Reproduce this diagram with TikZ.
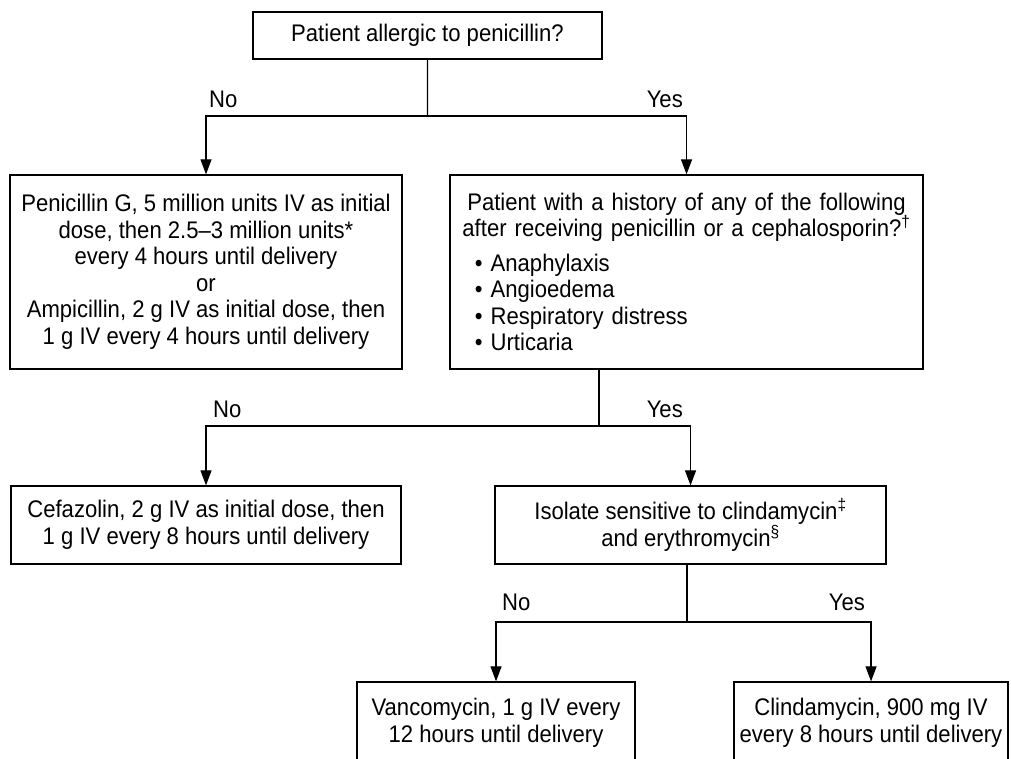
\documentclass[tikz,border=0pt]{standalone}
\usepackage{fontspec}
\usepackage{tikz}
\usetikzlibrary{arrows.meta}
\newfontfamily\chartfont{Liberation Sans}[FakeStretch=0.92]
\setlength\parindent{0pt}

\begin{document}
\begin{tikzpicture}[scale=0.3514]
\tikzstyle{every node}+=[inner sep=0pt, font=\chartfont\fontsize{24}{26.5}\selectfont]
\tikzstyle{box}=[draw=black, line width=1.3pt, align=center]
\tikzstyle{link}=[black, line width=1.1pt]
\tikzstyle{arr}=[link, -{Triangle[length=15pt,width=11pt]}]
\useasboundingbox (0,0) rectangle (101.1,-75.9);
% question boxes and treatments
\node [box, minimum width=349pt, minimum height=47pt] (allergic) at (42.75,-3.55) {Patient allergic to penicillin?};
\node [box, minimum width=392pt, minimum height=194pt] (pen) at (20.6,-27.2) {Penicillin G, 5 million units IV as initial\\ dose, then 2.5–3 million units*\\ every 4 hours until delivery\\ or\\ Ampicillin, 2 g IV as initial dose, then\\ 1 g IV every 4 hours until delivery};
\node [box, align=left, text width=423pt, minimum height=194pt, inner xsep=25pt] (history) at (68.65,-27.2) {\makebox[\linewidth]{Patient with a history of any of the following}\\ \makebox[\linewidth]{after receiving penicillin or a cephalosporin?\textsuperscript{†}}\\[8pt] • Anaphylaxis\\ • Angioedema\\ • Respiratory distress\\ • Urticaria};
\node [box, minimum width=390pt, minimum height=78pt] (cef) at (20.6,-52.5) {Cefazolin, 2 g IV as initial dose, then\\ 1 g IV every 8 hours until delivery};
\node [box, minimum width=391pt, minimum height=78pt] (iso) at (69.05,-52.5) {Isolate sensitive to clindamycin\textsuperscript{‡}\\ and erythromycin\textsuperscript{§}};
\node [box, minimum width=278pt, minimum height=82pt] (vanc) at (49.6,-72.3) {Vancomycin, 1 g IV every\\ 12 hours until delivery};
\node [box, minimum width=274pt, minimum height=82pt] (clinda) at (87.1,-72.3) {Clindamycin, 900 mg IV\\ every 8 hours until delivery};
% branch points
\coordinate (j1) at (42.75,-11.6);
\coordinate (j2) at (59.9,-42.6);
\coordinate (j3) at (68.7,-62.2);
\draw [link] (allergic) -- (j1);
\draw [arr] (j1) -| (pen);
\draw [arr] (j1) -| (history);
\draw [link] (history.south -| j2) -- (j2);
\draw [arr] (j2) -| (cef);
\draw [arr] (j2) -| (iso);
\draw [link] (iso.south -| j3) -- (j3);
\draw [arr] (j3) -| (vanc);
\draw [arr] (j3) -| (clinda);
% answers
\node [anchor=base west] (no1) at (20.9,-10.8) {No};
\node [anchor=base east] (yes1) at (68.3,-10.8) {Yes};
\node [anchor=base west] (no2) at (21.3,-41.8) {No};
\node [anchor=base east] (yes2) at (68.3,-41.8) {Yes};
\node [anchor=base west] (no3) at (50.2,-61.0) {No};
\node [anchor=base east] (yes3) at (86.5,-61.0) {Yes};
\end{tikzpicture}
\end{document}
